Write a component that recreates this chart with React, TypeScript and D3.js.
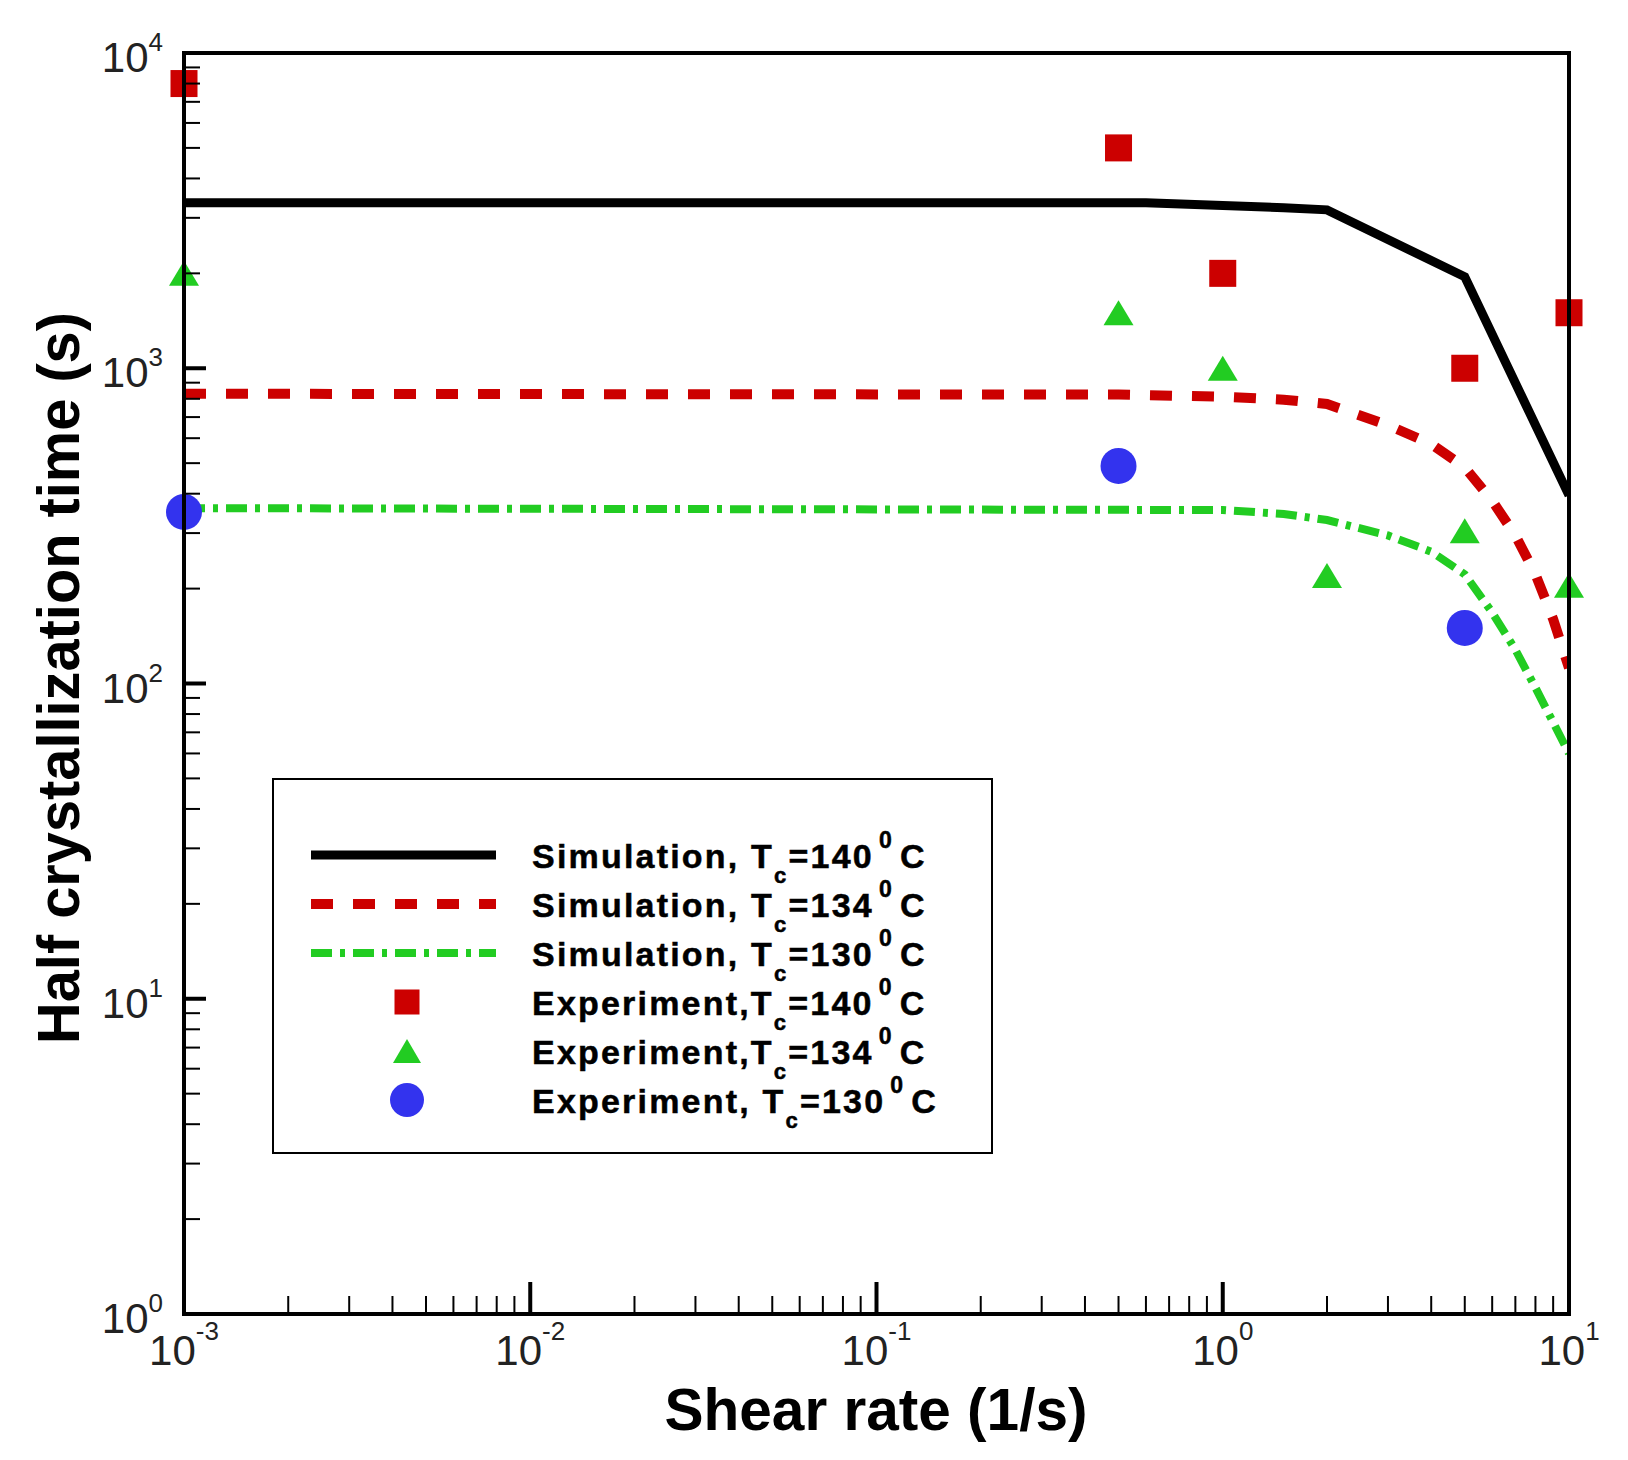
import React from 'react';
import * as d3 from 'd3';

// ---------- data ----------
const sim140X = [0.001, 0.6, 1, 1.5, 2, 5, 10];
const sim140Y = [3350, 3350, 3280, 3230, 3180, 1950, 395];
const sim134X = [0.001, 0.5, 1, 1.5, 2, 3, 4, 5, 6, 7, 8, 9, 10];
const sim134Y = [830, 825, 812, 795, 770, 660, 575, 485, 380, 295, 222, 160, 112];
const sim130X = [0.001, 1, 1.5, 2, 3, 4, 5, 6, 7, 8, 10];
const sim130Y = [360, 355, 345, 330, 295, 262, 222, 168, 128, 97, 60];

const exp140X = [0.001, 0.5, 1, 5, 10];
const exp140Y = [8000, 5000, 2000, 1000, 1500];
const exp134X = [0.001, 0.5, 1, 2, 5, 10];
const exp134Y = [2000, 1500, 1000, 220, 305, 205];
const exp130X = [0.001, 0.5, 5];
const exp130Y = [350, 490, 150];

const xTickExps = [-3, -2, -1, 0, 1];
const yTickExps = [0, 1, 2, 3, 4];

const legendLabels = [
  { pre: 'Simulation, T', num: '=140' },
  { pre: 'Simulation, T', num: '=134' },
  { pre: 'Simulation, T', num: '=130' },
  { pre: 'Experiment,T', num: '=140' },
  { pre: 'Experiment,T', num: '=134' },
  { pre: 'Experiment, T', num: '=130' },
];

const xTitle = 'Shear rate (1/s)';
const yTitle = 'Half crystallization time (s)';

// ---------- layout ----------
const W = 1628;
const H = 1460;
const L = 184, R = 1569, T = 53, B = 1314;
const FONT = 'Liberation Sans, Arial, Helvetica, sans-serif';

const RED = '#cc0000';
const GREEN = '#22cc22';
const BLUE = '#3333ee';

const x = d3.scaleLog().domain([1e-3, 1e1]).range([L, R]);
const y = d3.scaleLog().domain([1, 1e4]).range([B, T]);

const line = d3
  .line<[number, number]>()
  .x((d) => x(d[0]))
  .y((d) => y(d[1]));

const zip = (a: number[], b: number[]) => a.map((v, i) => [v, b[i]] as [number, number]);

const Square = ({ cx, cy, s }: { cx: number; cy: number; s: number }) => (
  <rect x={cx - s / 2} y={cy - s / 2} width={s} height={s} fill={RED} />
);
const Tri = ({ cx, cy, w, h }: { cx: number; cy: number; w: number; h: number }) => (
  <path d={`M${cx},${cy - h / 2}L${cx + w / 2},${cy + h / 2}L${cx - w / 2},${cy + h / 2}Z`} fill={GREEN} />
);
const Circ = ({ cx, cy, r }: { cx: number; cy: number; r: number }) => (
  <circle cx={cx} cy={cy} r={r} fill={BLUE} />
);

export default function App() {
  const xTicks = x.ticks();
  const yTicks = y.ticks();
  const isMajor = (v: number) => Math.abs(Math.log10(v) - Math.round(Math.log10(v))) < 1e-9;

  const rowY0 = 855;
  const rowStep = 49;
  const sampleX0 = 311, sampleX1 = 496, symX = 407, textX = 532;

  return (
    <svg width={W} height={H} style={{ position: 'absolute', left: 0, top: 0, background: '#fff' }} fontFamily={FONT}>
      <rect x={0} y={0} width={W} height={H} fill="#fff" />
      <defs>
        <clipPath id="plotclip">
          <rect x={L} y={T} width={R - L} height={B - T} />
        </clipPath>
      </defs>

      {/* simulation lines */}
      <g clipPath="url(#plotclip)" fill="none">
        <path d={line(zip(sim140X, sim140Y)) || ''} stroke="#000" strokeWidth={9} strokeLinejoin="miter" />
        <path d={line(zip(sim134X, sim134Y)) || ''} stroke={RED} strokeWidth={10} strokeDasharray="22 20" />
        <path d={line(zip(sim130X, sim130Y)) || ''} stroke={GREEN} strokeWidth={8} strokeDasharray="21 8 5 8" />
      </g>

      {/* experiment markers */}
      {exp140X.map((v, i) => (
        <Square key={'s' + i} cx={x(v)} cy={y(exp140Y[i])} s={27} />
      ))}
      {exp134X.map((v, i) => (
        <Tri key={'t' + i} cx={x(v)} cy={y(exp134Y[i])} w={30} h={25} />
      ))}
      {exp130X.map((v, i) => (
        <Circ key={'c' + i} cx={x(v)} cy={y(exp130Y[i])} r={18} />
      ))}

      {/* frame */}
      <rect x={L} y={T} width={R - L} height={B - T} fill="none" stroke="#000" strokeWidth={4} />

      {/* x ticks */}
      {xTicks.map((v, i) => {
        const maj = isMajor(v);
        return (
          <line key={'xt' + i} x1={x(v)} x2={x(v)} y1={B} y2={B - (maj ? 32 : 18)} stroke="#000" strokeWidth={maj ? 4 : 2} />
        );
      })}
      {/* y ticks */}
      {yTicks.map((v, i) => {
        const maj = isMajor(v);
        return (
          <line key={'yt' + i} x1={L} x2={L + (maj ? 22 : 16)} y1={y(v)} y2={y(v)} stroke="#000" strokeWidth={maj ? 4 : 2} />
        );
      })}

      {/* x tick labels */}
      {xTickExps.map((e) => (
        <text key={'xl' + e} x={x(Math.pow(10, e))} y={B + 51} textAnchor="middle" fontSize={42} fill="#222">
          10
          <tspan fontSize={26} dy={-25}>{e < 0 ? '-' + Math.abs(e) : String(e)}</tspan>
        </text>
      ))}
      {/* y tick labels */}
      {yTickExps.map((e) => (
        <text key={'yl' + e} x={L - 21} y={y(Math.pow(10, e)) + 19} textAnchor="end" fontSize={42} fill="#222">
          10
          <tspan fontSize={26} dy={-21}>{String(e)}</tspan>
        </text>
      ))}

      {/* axis titles */}
      <text x={876} y={1430} textAnchor="middle" fontSize={60} fontWeight="bold" textLength={423} lengthAdjust="spacingAndGlyphs">
        {xTitle}
      </text>
      <text
        transform="translate(79,678) rotate(-90)"
        textAnchor="middle"
        fontSize={60}
        fontWeight="bold"
        textLength={732}
        lengthAdjust="spacingAndGlyphs"
      >
        {yTitle}
      </text>

      {/* legend */}
      <rect x={273} y={779} width={719} height={374} fill="#fff" stroke="#000" strokeWidth={2} />
      <line x1={sampleX0} x2={sampleX1} y1={rowY0} y2={rowY0} stroke="#000" strokeWidth={9} />
      <line x1={sampleX0} x2={sampleX1} y1={rowY0 + rowStep} y2={rowY0 + rowStep} stroke={RED} strokeWidth={10} strokeDasharray="22 20" />
      <line x1={sampleX0} x2={sampleX1} y1={rowY0 + 2 * rowStep} y2={rowY0 + 2 * rowStep} stroke={GREEN} strokeWidth={8} strokeDasharray="21 8 5 8" />
      <Square cx={symX} cy={rowY0 + 3 * rowStep} s={25} />
      <Tri cx={symX} cy={rowY0 + 4 * rowStep} w={28} h={24} />
      <Circ cx={symX} cy={rowY0 + 5 * rowStep} r={17} />
      {legendLabels.map((lab, i) => (
        <text
          key={'lg' + i}
          x={textX}
          y={rowY0 + i * rowStep + 13}
          fontSize={34}
          fontWeight="bold"
          fill="#000"
          stroke="#000"
          strokeWidth={0.5}
          letterSpacing={2.2}
        >
          {lab.pre}
          <tspan fontSize={22} dy={15}>c</tspan>
          <tspan fontSize={34} dy={-15}>{lab.num}</tspan>
          <tspan fontSize={23} dy={-20} dx={5}>0</tspan>
          <tspan fontSize={34} dy={20} dx={6}>C</tspan>
        </text>
      ))}
    </svg>
  );
}
